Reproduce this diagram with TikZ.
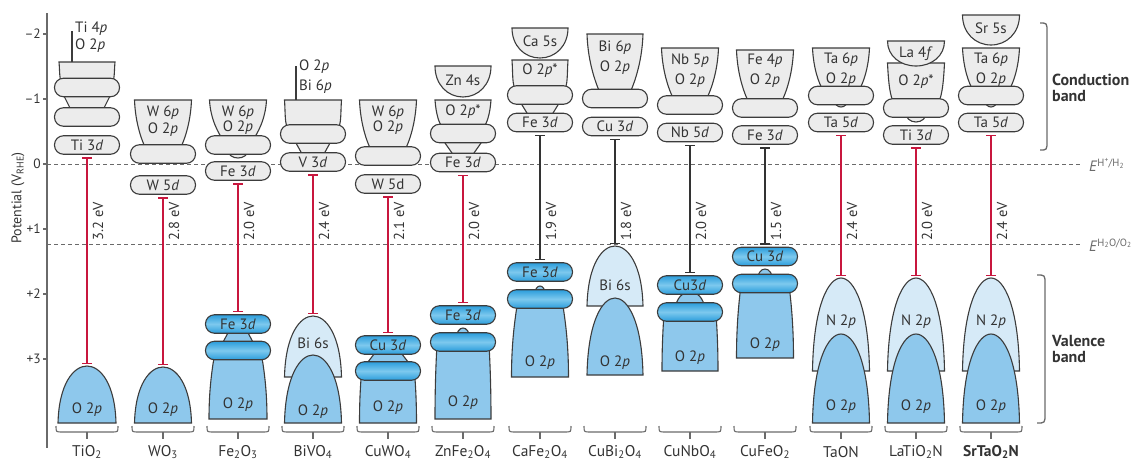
\documentclass[tikz,border=0pt]{standalone}
\usepackage{fontspec}
\setmainfont{PT Sans}
\usetikzlibrary{arrows.meta, calc}
\definecolor{bdInk}{HTML}{333333}
\definecolor{bdEdge}{HTML}{3C3C3C}
\definecolor{bdMuted}{HTML}{6A6A6A}
\definecolor{bdGray}{HTML}{ECECEC}
\definecolor{bdBlue}{HTML}{8EC8EC}
\definecolor{bdLight}{HTML}{D6EAF7}
\definecolor{bdCapLo}{HTML}{2B9DDB}
\definecolor{bdCapHi}{HTML}{7DC9EE}
\definecolor{bdRed}{HTML}{C8173E}
\newcommand{\bdfont}{\fontsize{15}{15}\selectfont}
\tikzset{
  bdgray/.style={draw=bdEdge, fill=bdGray, line width=1.1pt},
  bdblue/.style={draw=bdEdge, fill=bdBlue, line width=1.1pt},
  bdlight/.style={draw=bdEdge, fill=bdLight, line width=1.1pt},
  bdcap/.style={
    rounded corners=9pt, minimum width=65pt, minimum height=18.5pt,
    inner sep=0pt, line width=1.1pt, draw=bdEdge, text=bdInk, font=\bdfont,
  },
  bdcapg/.style={bdcap, fill=bdGray},
  bdcapb/.style={bdcap, top color=bdCapLo, bottom color=bdCapLo, middle color=bdCapHi},
  bdlbl/.style={inner sep=0pt, text=bdInk, font=\bdfont},
  bdgap/.style={
    {Bar[width=10pt]}-{Bar[width=10pt]}, draw=#1, line width=1.3pt,
    shorten <=2.5pt, shorten >=2pt,
  },
  bdgaplbl/.style={rotate=90, inner sep=0pt, text=bdInk, font=\fontsize{14.5}{14.5}\selectfont},
  bdlevel/.style={draw=bdMuted, dash pattern=on 4pt off 3pt, line width=0.8pt},
  bdbrace/.style={draw=bdMuted, line width=1.1pt},
}
% cup: cx, top, bottom, half width top, half width bottom, style
\newcommand{\bdcup}[6]{%
  \path[#6] ({#1-#4},#2) -- ({#1+#4},#2)
    .. controls ({#1+#4-1},{#2+0.5*(#3-#2)}) and ({#1+#5+4},{#3-0.15*(#3-#2)}) .. ({#1+#5},#3)
    -- ({#1-#5},#3)
    .. controls ({#1-#5-4},{#3-0.15*(#3-#2)}) and ({#1-#4+1},{#2+0.5*(#3-#2)}) .. cycle;%
}
% bowl: cx, top, bottom, half width, style
\newcommand{\bdbowl}[5]{%
  \path[#5] ({#1-#4},#2) -- ({#1+#4},#2)
    .. controls ({#1+#4},{#2+0.6*(#3-#2)}) and ({#1+0.55*#4},#3) .. (#1,#3)
    .. controls ({#1-0.55*#4},#3) and ({#1-#4},{#2+0.6*(#3-#2)}) .. cycle;%
}
% dome: cx, peak, bottom, half width, style
\newcommand{\bddome}[5]{%
  \path[#5] ({#1-#4},#3)
    .. controls ({#1-#4+1},{#2+0.3*(#3-#2)}) and ({#1-0.45*#4},#2) .. (#1,#2)
    .. controls ({#1+0.45*#4},#2) and ({#1+#4-1},{#2+0.3*(#3-#2)}) .. ({#1+#4},#3)
    -- cycle;%
}
% bell: cx, top, bottom, half width top, half width bottom, style
\newcommand{\bdbell}[6]{%
  \path[#6] ({#1-#4},#2) -- ({#1+#4},#2)
    .. controls ({#1+#4+0.6*(#5-#4)},{#2+0.3*(#3-#2)}) and ({#1+#5},{#3-0.4*(#3-#2)}) .. ({#1+#5},#3)
    -- ({#1-#5},#3)
    .. controls ({#1-#5},{#3-0.4*(#3-#2)}) and ({#1-#4-0.6*(#5-#4)},{#2+0.3*(#3-#2)}) .. cycle;%
}
% neck: cx, y1, y2, half width at y1, half width at y2, style
\newcommand{\bdneck}[6]{%
  \path[#6] ({#1-#4},#2) -- ({#1+#4},#2) -- ({#1+#5},#3) -- ({#1-#5},#3) -- cycle;%
}

\begin{document}
\begin{tikzpicture}[x=1pt, y=-1pt]
\useasboundingbox (0,0) rectangle (1136,464);

% Axis --------------------------------------------------------------------
\draw[bdMuted, line width=1.1pt] (47,13) -- (47,448);
\foreach \v/\t/\n in {-2/\textendash2/a, -1/\textendash1/b, 0/0/c, 1/+1/d, 2/+2/e, 3/+3/f}{%
  \draw[bdMuted, line width=1.1pt] (43,{164+65*\v}) -- (47,{164+65*\v});
  \node[bdlbl, anchor=east, font=\fontsize{13.5}{13.5}\selectfont] (tick\n) at (41,{164+65*\v}) {\t};
}
\node[bdlbl, rotate=90, font=\fontsize{14}{14}\selectfont] (ylab) at (18,198)
  {Potential (V\textsubscript{RHE})};

% Redox levels ------------------------------------------------------------
\coordinate (hA) at (47,164);
\coordinate (hB) at (1082,164);
\coordinate (oA) at (47,244);
\coordinate (oB) at (1082,244);
\draw[bdlevel] (hA) -- (hB);
\draw[bdlevel] (oA) -- (oB);
\node[bdlbl, anchor=west, text=bdMuted, font=\fontsize{15}{15}\selectfont] (eH) at (1089,165)
  {\textit{E}\textsuperscript{H\textsuperscript{+}/H\textsubscript{2}}};
\node[bdlbl, anchor=west, text=bdMuted, font=\fontsize{15}{15}\selectfont] (eO) at (1089,245)
  {\textit{E}\textsuperscript{H\textsubscript{2}O/O\textsubscript{2}}};

% TiO2 --------------------------------------------------------------------
\node[bdlbl, anchor=west] (c1t1) at (75,29) {Ti 4\textit{p}};
\node[bdlbl, anchor=west] (c1t2) at (75,46) {O 2\textit{p}};
\coordinate (c1ldA) at (72,31);
\coordinate (c1ldB) at (72,65);
\draw[bdEdge, line width=1.1pt] (c1ldA) -- (c1ldB);
\bdcup{87}{62}{84}{28}{24}{bdgray}
\bdneck{87}{92}{112}{25}{15}{bdgray}
\node[bdcapg] (c1a) at (87,87.5) {};
\node[bdcapg] (c1b) at (87,117) {};
\node[bdcapg] (c1cb) at (87,145) {Ti 3\textit{d}};
\bddome{87}{366}{423}{29}{bdblue}
\coordinate (c1vt) at (87,366);
\node[bdlbl] (c1v) at (87,410) {O 2\textit{p}};
\draw[bdgap=bdRed] (c1cb.south) -- (c1vt);
\node[bdgaplbl] (c1g) at (98,221) {3.2 eV};

% WO3 ---------------------------------------------------------------------
\bdcup{163}{100}{150}{28.5}{16.5}{bdgray}
\node[bdlbl] (c2t1) at (163,113) {W 6\textit{p}};
\node[bdlbl] (c2t2) at (163,130) {O 2\textit{p}};
\node[bdcapg] (c2a) at (163,154) {};
\node[bdcapg] (c2cb) at (163,185) {W 5\textit{d}};
\bddome{163}{367}{423}{28.5}{bdblue}
\coordinate (c2vt) at (163,367);
\node[bdlbl] (c2v) at (163,410) {O 2\textit{p}};
\draw[bdgap=bdRed] (c2cb.south) -- (c2vt);
\node[bdgaplbl] (c2g) at (174,221) {2.8 eV};

% Fe2O3 -------------------------------------------------------------------
\bdcup{238}{100}{140}{28.5}{15}{bdgray}
\node[bdlbl] (c3t1) at (238,113) {W 6\textit{p}};
\node[bdlbl] (c3t2) at (238,128) {O 2\textit{p}};
\bdbowl{238}{150}{158}{10}{bdgray}
\node[bdcapg] (c3a) at (238,145) {};
\node[bdcapg] (c3cb) at (238,171) {Fe 3\textit{d}};
\bdbell{238}{352}{419}{23}{29}{bdblue}
\bdneck{238}{326}{348}{6.5}{18}{bdblue}
\node[bdcapb] (c3vb) at (238,324) {Fe 3\textit{d}};
\node[bdcapb] (c3vc) at (238,350.5) {};
\node[bdlbl] (c3v) at (238,405) {O 2\textit{p}};
\draw[bdgap=bdRed] (c3cb.south) -- (c3vb.north);
\node[bdgaplbl] (c3g) at (249,221) {2.0 eV};

% BiVO4 -------------------------------------------------------------------
\node[bdlbl, anchor=west] (c4t1) at (299,67) {O 2\textit{p}};
\node[bdlbl, anchor=west] (c4t2) at (299,87) {Bi 6\textit{p}};
\coordinate (c4ldA) at (296,66);
\coordinate (c4ldB) at (296,105);
\draw[bdEdge, line width=1.1pt] (c4ldA) -- (c4ldB);
\bdcup{313}{100}{129}{28.5}{24.5}{bdgray}
\bdneck{313}{138}{158}{19.75}{8.75}{bdgray}
\node[bdcapg] (c4a) at (313,134) {};
\node[bdcapg] (c4cb) at (313,162) {V 3\textit{d}};
\bddome{313}{316}{377}{28.5}{bdlight}
\coordinate (c4vt) at (313,316);
\node[bdlbl] (c4s) at (313,343) {Bi 6s};
\bddome{313}{355}{423}{28.5}{bdblue}
\node[bdlbl] (c4v) at (313,412) {O 2\textit{p}};
\draw[bdgap=bdRed] (c4cb.south) -- (c4vt);
\node[bdgaplbl] (c4g) at (324,221) {2.4 eV};

% CuWO4 -------------------------------------------------------------------
\bdcup{388}{100}{151}{28.5}{16.5}{bdgray}
\node[bdlbl] (c5t1) at (388,113) {W 6\textit{p}};
\node[bdlbl] (c5t2) at (388,128) {O 2\textit{p}};
\node[bdcapg] (c5a) at (388,156) {};
\node[bdcapg] (c5cb) at (388,184) {W 5d};
\bdbell{388}{372}{423}{26.5}{28.5}{bdblue}
\bdneck{388}{349}{367}{10}{24}{bdblue}
\node[bdcapb] (c5vb) at (388,345) {Cu 3\textit{d}};
\node[bdcapb] (c5vc) at (388,371) {};
\node[bdlbl] (c5v) at (388,408) {O 2\textit{p}};
\draw[bdgap=bdRed] (c5cb.south) -- (c5vb.north);
\node[bdgaplbl] (c5g) at (399,221) {2.1 eV};

% ZnFe2O4 -----------------------------------------------------------------
\bdbowl{463}{66}{97}{28}{bdgray}
\node[bdlbl] (c6t1) at (463,80) {Zn 4s};
\bdcup{463}{100}{128}{28}{20}{bdgray}
\node[bdlbl] (c6t2) at (463,112) {O 2\textit{p}*};
\bdneck{463}{138}{158}{21.5}{7.5}{bdgray}
\node[bdcapg] (c6a) at (463,133.5) {};
\node[bdcapg] (c6cb) at (463,162.5) {Fe 3\textit{d}};
\bdbell{463}{344}{419}{26}{28}{bdblue}
\bddome{463}{328}{340}{7.5}{bdblue}
\node[bdcapb] (c6vb) at (463,315) {Fe 3\textit{d}};
\node[bdcapb] (c6vc) at (463,342) {};
\node[bdlbl] (c6v) at (463,403) {O 2\textit{p}};
\draw[bdgap=bdRed] (c6cb.south) -- (c6vb.north);
\node[bdgaplbl] (c6g) at (474,221) {2.0 eV};

% CaFe2O4 -----------------------------------------------------------------
\bdbowl{540}{28}{58}{28}{bdgray}
\node[bdlbl] (c7t1) at (540,41) {Ca 5s};
\bdcup{540}{60}{90}{28}{24}{bdgray}
\node[bdlbl] (c7t2) at (540,71) {O 2\textit{p}*};
\bdneck{540}{100}{118}{21}{10}{bdgray}
\node[bdcapg] (c7a) at (540,95) {};
\node[bdcapg] (c7cb) at (540,122.5) {Fe 3\textit{d}};
\bdbell{540}{300}{377}{22}{28.5}{bdblue}
\bddome{540}{286}{296}{6}{bdblue}
\node[bdcapb] (c7vb) at (540,272) {Fe 3\textit{d}};
\node[bdcapb] (c7vc) at (540,299) {};
\node[bdlbl] (c7v) at (540,363) {O 2\textit{p}};
\draw[bdgap=bdInk] (c7cb.south) -- (c7vb.north);
\node[bdgaplbl] (c7g) at (551,221) {1.9 eV};

% CuBi2O4 -----------------------------------------------------------------
\bdcup{615}{34}{94}{28}{14.5}{bdgray}
\node[bdlbl] (c8t1) at (615,48) {Bi 6\textit{p}};
\node[bdlbl] (c8t2) at (615,68) {O 2\textit{p}};
\node[bdcapg] (c8a) at (615,98.5) {};
\node[bdcapg] (c8cb) at (615,126.5) {Cu 3\textit{d}};
\bddome{615}{246}{306}{28}{bdlight}
\coordinate (c8vt) at (615,246);
\node[bdlbl] (c8s) at (615,285) {Bi 6s};
\bddome{615}{298}{375}{28}{bdblue}
\node[bdlbl] (c8v) at (615,363) {O 2\textit{p}};
\draw[bdgap=bdInk] (c8cb.south) -- (c8vt);
\node[bdgaplbl] (c8g) at (626,221) {1.8 eV};

% CuNbO4 ------------------------------------------------------------------
\bdcup{690}{48}{100}{28.5}{16}{bdgray}
\node[bdlbl] (c9t1) at (690,61) {Nb 5\textit{p}};
\node[bdlbl] (c9t2) at (690,81) {O 2\textit{p}};
\node[bdcapg] (c9a) at (690,105) {};
\node[bdcapg] (c9cb) at (690,132.5) {Nb 5\textit{d}};
\bdbell{690}{314}{371}{26}{28}{bdblue}
\bddome{690}{292}{310}{15}{bdblue}
\node[bdcapb] (c9vb) at (690,285) {Cu3\textit{d}};
\node[bdcapb] (c9vc) at (690,312) {};
\node[bdlbl] (c9v) at (690,358) {O 2\textit{p}};
\draw[bdgap=bdInk] (c9cb.south) -- (c9vb.north);
\node[bdgaplbl] (c9g) at (701,221) {2.0 eV};

% CuFeO2 ------------------------------------------------------------------
\bdcup{765}{50}{103}{28.5}{16}{bdgray}
\node[bdlbl] (c10t1) at (765,61) {Fe 4\textit{p}};
\node[bdlbl] (c10t2) at (765,81) {O 2\textit{p}};
\node[bdcapg] (c10a) at (765,108) {};
\node[bdcapg] (c10cb) at (765,135) {Fe 3\textit{d}};
\bdbell{765}{285}{358}{24}{28.5}{bdblue}
\bddome{765}{269}{282}{8.5}{bdblue}
\node[bdcapb] (c10vb) at (765,256.5) {Cu 3\textit{d}};
\node[bdcapb] (c10vc) at (765,283.5) {};
\node[bdlbl] (c10v) at (765,345) {O 2\textit{p}};
\draw[bdgap=bdInk] (c10cb.south) -- (c10vb.north);
\node[bdgaplbl] (c10g) at (776,221) {1.5 eV};

% TaON --------------------------------------------------------------------
\bdcup{841}{48}{90}{28.5}{18}{bdgray}
\node[bdlbl] (c11t1) at (841,60) {Ta 6\textit{p}};
\node[bdlbl] (c11t2) at (841,80) {O 2\textit{p}};
\bdbowl{841}{100}{107}{6.5}{bdgray}
\node[bdcapg] (c11a) at (841,95.5) {};
\node[bdcapg] (c11cb) at (841,122.5) {Ta 5\textit{d}};

% LaTiO2N -----------------------------------------------------------------
\bdcup{916}{63}{103}{28.5}{22}{bdgray}
\node[bdlbl] (c12t2) at (916,82) {O 2\textit{p}*};
\bdbowl{916}{41}{66}{28.5}{bdgray}
\node[bdlbl] (c12t1) at (916,54) {La 4\textit{f}};
\bdbowl{916}{112}{122}{10.5}{bdgray}
\node[bdcapg] (c12a) at (916,108) {};
\node[bdcapg] (c12cb) at (916,135) {Ti 3\textit{d}};

% SrTaO2N -----------------------------------------------------------------
\bdbowl{991}{15}{45}{28.5}{bdgray}
\node[bdlbl] (c13t0) at (991,28) {Sr 5s};
\bdcup{991}{48}{90}{28.5}{18}{bdgray}
\node[bdlbl] (c13t1) at (991,60) {Ta 6\textit{p}};
\node[bdlbl] (c13t2) at (991,80) {O 2\textit{p}};
\bdbowl{991}{100}{107}{6}{bdgray}
\node[bdcapg] (c13a) at (991,95.5) {};
\node[bdcapg] (c13cb) at (991,122.5) {Ta 5\textit{d}};

% Oxynitride valence bands ------------------------------------------------
\foreach \cx/\n/\gap in {841/11/2.4, 916/12/2.0, 991/13/2.4}{%
  \bddome{\cx}{278}{371}{28.5}{bdlight}
  \coordinate (c\n vt) at (\cx,278);
  \node[bdlbl] (c\n s) at (\cx,322) {N 2\textit{p}};
  \bddome{\cx}{334}{423}{28.5}{bdblue}
  \node[bdlbl] (c\n v) at (\cx,407) {O 2\textit{p}};
  \draw[bdgap=bdRed] (c\n cb.south) -- (c\n vt);
  \node[bdgaplbl] (c\n g) at ({\cx+11},221) {\gap\ eV};
}

% Materials ---------------------------------------------------------------
\foreach \cx/\lab/\n in {87/TiO\textsubscript{2}/1, 163/WO\textsubscript{3}/2,
    238/Fe\textsubscript{2}O\textsubscript{3}/3, 313/BiVO\textsubscript{4}/4,
    388/CuWO\textsubscript{4}/5, 463/ZnFe\textsubscript{2}O\textsubscript{4}/6,
    540/CaFe\textsubscript{2}O\textsubscript{4}/7, 615/CuBi\textsubscript{2}O\textsubscript{4}/8,
    690/CuNbO\textsubscript{4}/9, 765/CuFeO\textsubscript{2}/10, 841/TaON/11,
    916/LaTiO\textsubscript{2}N/12, 991/\textbf{SrTaO\textsubscript{2}N}/13}{%
  \draw[bdbrace] ({\cx-31},426) .. controls ({\cx-31},432) .. ({\cx-25},432)
    -- ({\cx+25},432) .. controls ({\cx+31},432) .. ({\cx+31},426);
  \draw[bdbrace] (\cx,432) -- (\cx,439);
  \node[bdlbl, font=\fontsize{15.5}{15.5}\selectfont] (xl\n) at (\cx,452) {\lab};
}

% Band brackets -----------------------------------------------------------
\draw[bdbrace, line width=1.3pt] (1040,23) .. controls (1047,23) .. (1047,32)
  -- (1047,141) .. controls (1047,150) .. (1040,150);
\draw[bdbrace, line width=1.3pt] (1037,275) .. controls (1045,275) .. (1045,284)
  -- (1045,414) .. controls (1045,423) .. (1037,423);
\node[bdlbl, anchor=west, align=left, font=\bfseries\fontsize{16}{15.5}\selectfont] (cbl) at (1052,88)
  {Conduction\\band};
\node[bdlbl, anchor=west, align=left, font=\bfseries\fontsize{16}{15.5}\selectfont] (vbl) at (1052,349)
  {Valence\\band};

\end{tikzpicture}
\end{document}
